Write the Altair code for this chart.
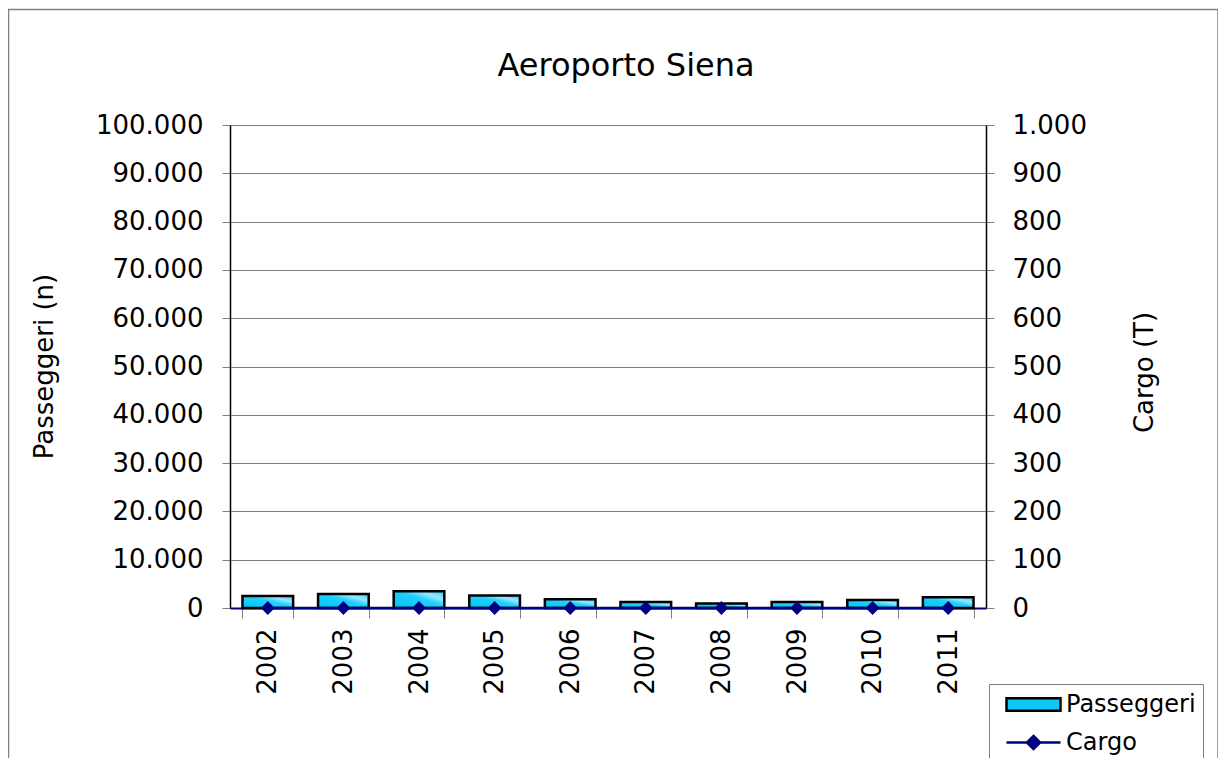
import altair as alt
import pandas as pd

years = ["2002", "2003", "2004", "2005", "2006", "2007", "2008", "2009", "2010", "2011"]
passeggeri = [2500, 2900, 3450, 2600, 1800, 1250, 950, 1250, 1650, 2200]
cargo = [0, 0, 0, 0, 0, 0, 0, 0, 0, 0]
left_ticks = [0, 10000, 20000, 30000, 40000, 50000, 60000, 70000, 80000, 90000, 100000]
right_ticks = [0, 100, 200, 300, 400, 500, 600, 700, 800, 900, 1000]
series_names = ["Passeggeri", "Cargo"]

df = pd.DataFrame({"anno": years, "passeggeri": passeggeri, "cargo": cargo})

FONT = "DejaVu Sans"
NAVY = "#000080"

x_enc = alt.X(
    "anno:N",
    sort=years,
    title=None,
    scale=alt.Scale(paddingInner=0.33, paddingOuter=0.165),
    axis=alt.Axis(
        labelAngle=270,
        labelFont=FONT,
        labelFontSize=26,
        labelColor="black",
        labelPadding=10,
        tickBand="extent",
        tickSize=10,
        tickColor="#808080",
        domainColor=NAVY,
        domainWidth=2,
        grid=False,
    ),
)

bar_fill = alt.Gradient(
    gradient="linear",
    x1=0, y1=1, x2=1, y2=0,
    stops=[
        alt.GradientStop(color="#00c4f4", offset=0),
        alt.GradientStop(color="#20d0fc", offset=0.55),
        alt.GradientStop(color="#9be6ff", offset=0.75),
        alt.GradientStop(color="#2cc8f6", offset=1),
    ],
)

rect_path = "M-0.25,-0.52H4.25V0.52H-0.25Z"
line_path = "M-0.25,0H4.25M2,-0.55L2.55,0L2,0.55L1.45,0Z"

legend = alt.Legend(
    title=None,
    orient="none",
    legendX=759,
    legendY=559,
    symbolSize=576,
    symbolType={"expr": f"datum.value == 'Cargo' ? '{line_path}' : '{rect_path}'"},
    symbolFillColor={"expr": f"datum.value == 'Cargo' ? '{NAVY}' : '#10c8f8'"},
    symbolStrokeWidth=2.5,
    symbolOpacity=1,
    labelFont=FONT,
    labelFontSize=24,
    labelColor="black",
    labelOffset=43,
    padding=7,
    rowPadding=12,
    strokeColor="#808080",
    fillColor="white",
)

bars = (
    alt.Chart(df)
    .mark_bar(fill=bar_fill, stroke="black", strokeWidth=2.5)
    .encode(
        x=x_enc,
        y=alt.Y(
            "passeggeri:Q",
            scale=alt.Scale(domain=[0, 100000], nice=False),
            axis=alt.Axis(
                values=left_ticks,
                title="Passeggeri (n)",
                orient="left",
                labelExpr="replace(format(datum.value, ','), ',', '.')",
                labelFont=FONT,
                labelFontSize=26,
                labelColor="black",
                labelPadding=19,
                tickSize=8,
                tickColor="#808080",
                domainColor="black",
                domainWidth=1.5,
                grid=True,
                gridColor="#808080",
                gridWidth=1,
                titleFont=FONT,
                titleFontSize=26,
                titleFontWeight="normal",
                titleColor="black",
                titleAngle=270,
                titleAlign="center",
                titleBaseline="middle",
                titleX=-186,
                titleY=241,
            ),
        ),
    )
)

cargo_y = alt.Y(
    "cargo:Q",
    scale=alt.Scale(domain=[0, 1000], nice=False),
    axis=alt.Axis(
        values=right_ticks,
        title="Cargo (T)",
        orient="right",
        labelExpr="replace(format(datum.value, ','), ',', '.')",
        labelFont=FONT,
        labelFontSize=26,
        labelColor="black",
        labelPadding=18,
        tickSize=8,
        tickColor="#808080",
        domainColor="black",
        domainWidth=1.5,
        grid=False,
        titleFont=FONT,
        titleFontSize=26,
        titleFontWeight="normal",
        titleColor="black",
        titleAngle=270,
        titleAlign="center",
        titleBaseline="middle",
        titleX=158,
        titleY=247,
    ),
)

line = (
    alt.Chart(df)
    .transform_calculate(serie="'Cargo'")
    .mark_line(strokeWidth=2.5)
    .encode(
        x=alt.X("anno:N", sort=years),
        y=cargo_y,
        stroke=alt.Stroke(
            "serie:N",
            scale=alt.Scale(domain=series_names, range=["black", NAVY]),
            legend=legend,
        ),
    )
)

points = (
    alt.Chart(df)
    .mark_point(shape="diamond", filled=True, size=190, color=NAVY, opacity=1)
    .encode(x=alt.X("anno:N", sort=years), y=cargo_y)
)

frame = (
    alt.Chart(alt.Data(values=[{"k": 1}]))
    .mark_rect(fillOpacity=0, stroke="#808080", strokeWidth=1.5)
    .encode(x=alt.value(-221.5), x2=alt.value(988), y=alt.value(-115.5), y2=alt.value(700))
)

cargo_layer = alt.layer(line, points)

chart = (
    alt.layer(frame, bars, cargo_layer)
    .resolve_scale(y="independent")
    .properties(
        width=756,
        height=483,
        autosize=alt.AutoSizeParams(type="none"),
        padding={"left": 222, "top": 117, "right": 232, "bottom": 150},
        title=alt.TitleParams(
            text="Aeroporto Siena",
            font=FONT,
            fontSize=32,
            fontWeight="normal",
            color="black",
            anchor="middle",
            dx=18,
            baseline="alphabetic",
            offset=-99,
        ),
    )
    .configure_view(strokeWidth=0)
    .configure(background="white")
)

chart.save("out.html", embed_options={"renderer": "svg", "actions": False})
